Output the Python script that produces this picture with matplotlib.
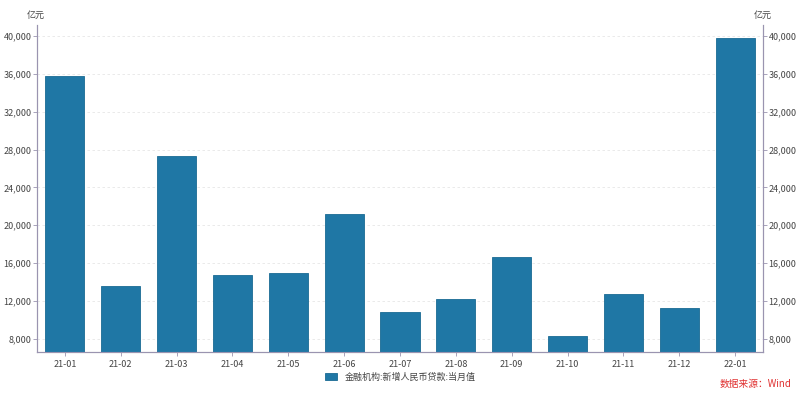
import matplotlib
matplotlib.use('Agg')
import matplotlib.pyplot as plt
from matplotlib.ticker import FuncFormatter

plt.rcParams['font.family'] = ['Noto Sans CJK SC', 'DejaVu Sans']

months = ['21-01', '21-02', '21-03', '21-04', '21-05', '21-06', '21-07',
          '21-08', '21-09', '21-10', '21-11', '21-12', '22-01']
new_loans = [35800, 13600, 27300, 14700, 15000, 21200, 10800,
             12200, 16600, 8262, 12700, 11300, 39800]
yticks = [8000, 12000, 16000, 20000, 24000, 28000, 32000, 36000, 40000]

BAR = '#1f77a5'
AXC = '#9a94b0'
TXT = '#444444'

fig = plt.figure(figsize=(8, 3.95), dpi=100)
ax = fig.add_axes([0.04625, 0.109, 0.9075, 0.828])
x = list(range(len(months)))
ax.bar(x, new_loans, width=0.7, color=BAR, edgecolor='#1a6a94', linewidth=0.6,
       label='金融机构:新增人民币贷款:当月值', zorder=3)

ax.set_xlim(-0.5, len(months) - 0.5)
ax.set_ylim(6600, 41200)
ax.set_xticks(x)
ax.set_xticklabels(months)
ax.set_yticks(yticks)
fmt = FuncFormatter(lambda v, p: f'{int(v):,}')
ax.yaxis.set_major_formatter(fmt)
ax.grid(axis='y', color='#e6e6e6', linestyle=(0, (3, 3)), linewidth=0.6, zorder=0)

ax2 = ax.twinx()
ax2.set_ylim(ax.get_ylim())
ax2.set_yticks(yticks)
ax2.yaxis.set_major_formatter(fmt)

for a in (ax, ax2):
    a.spines['top'].set_visible(False)
    for s in ('left', 'right', 'bottom'):
        a.spines[s].set_color(AXC)
        a.spines[s].set_linewidth(0.8)
    a.tick_params(labelsize=6.5, colors=TXT, length=3, width=0.6, pad=1)
ax.tick_params(axis='x', pad=3)
ax.tick_params(axis='both', color=AXC)
ax2.tick_params(axis='y', color=AXC)

fig.text(0.045, 0.962, '亿元', fontsize=6.5, color=TXT, ha='center', va='center')
fig.text(0.954, 0.962, '亿元', fontsize=6.5, color=TXT, ha='center', va='center')

fig.legend(loc='center', bbox_to_anchor=(0.5, 0.045), frameon=False,
           fontsize=6.5, handlelength=1.4, handleheight=0.9, labelcolor=TXT)
fig.text(0.944, 0.027, '数据来源：Wind', fontsize=7, color='#e03030',
         ha='center', va='center')

fig.savefig('out.png', dpi=100)
